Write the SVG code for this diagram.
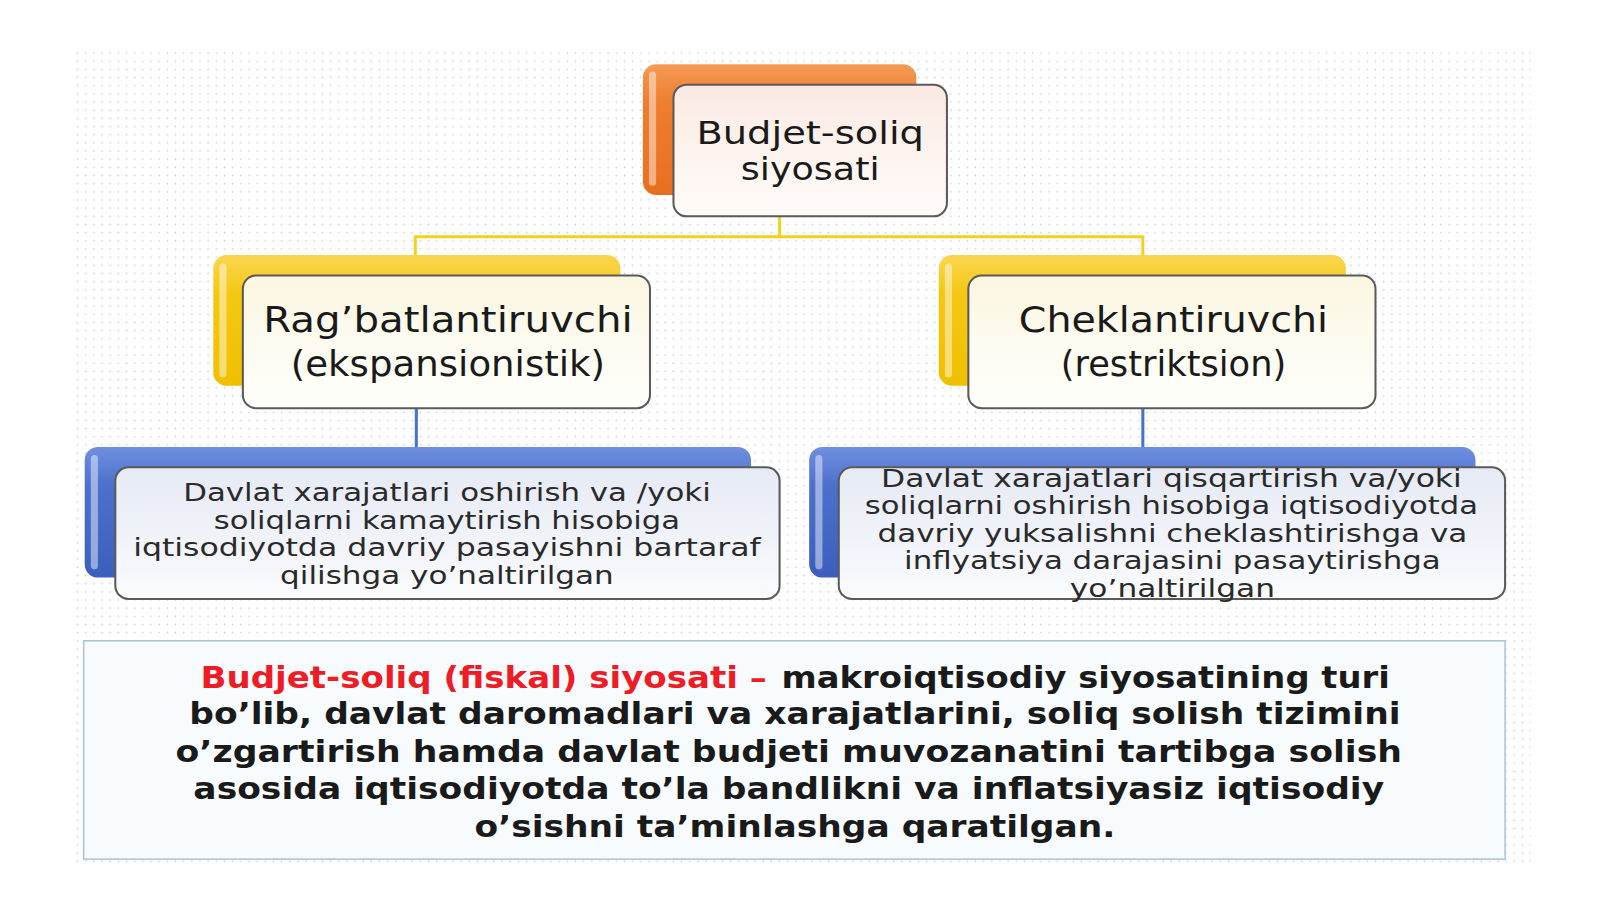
<svg xmlns="http://www.w3.org/2000/svg" width="1600" height="899" viewBox="0 0 1600 899">
<defs>
<pattern id="dots" x="0" y="0" width="8" height="8" patternUnits="userSpaceOnUse">
<circle cx="4" cy="4" r="0.9" fill="#c9d2de"/>
</pattern>
<linearGradient id="gOr" x1="0" y1="0" x2="0" y2="1">
<stop offset="0" stop-color="#f59a55"/><stop offset="0.3" stop-color="#ee7d2e"/><stop offset="1" stop-color="#e8701f"/>
</linearGradient>
<linearGradient id="gYe" x1="0" y1="0" x2="0" y2="1">
<stop offset="0" stop-color="#f9d650"/><stop offset="0.3" stop-color="#f5c712"/><stop offset="1" stop-color="#f0bf00"/>
</linearGradient>
<linearGradient id="gBl" x1="0" y1="0" x2="0" y2="1">
<stop offset="0" stop-color="#6f8fe0"/><stop offset="0.3" stop-color="#4c70cc"/><stop offset="1" stop-color="#3c5fbd"/>
</linearGradient>
<linearGradient id="fOr" x1="0" y1="0" x2="0" y2="1">
<stop offset="0" stop-color="#fbe9e2"/><stop offset="0.5" stop-color="#fdf3ee"/><stop offset="1" stop-color="#fefbf9"/>
</linearGradient>
<linearGradient id="fYe" x1="0" y1="0" x2="0" y2="1">
<stop offset="0" stop-color="#fbf6e0"/><stop offset="0.5" stop-color="#fdfbf0"/><stop offset="1" stop-color="#fefefa"/>
</linearGradient>
<linearGradient id="fBl" x1="0" y1="0" x2="0" y2="1">
<stop offset="0" stop-color="#e6eaf4"/><stop offset="0.5" stop-color="#f0f2f9"/><stop offset="1" stop-color="#fafbfd"/>
</linearGradient>
</defs>
<style>
.front{stroke:#5a5a5a;stroke-width:2}
.hl{fill:#ffffff;opacity:0.45}
.t{font-family:"DejaVu Sans","Liberation Sans",sans-serif;fill:#1a1a1a;text-anchor:middle}
.big{font-size:34px}
.top{font-size:31px}
.sm{font-size:23.5px;fill:#2a2a2a}
.bd{font-size:30px;font-weight:bold}
.red{fill:#ee1c25}
.con{fill:none;stroke-width:3}
</style>
<rect width="1600" height="899" fill="#ffffff"/>
<g transform="scale(1.0204)">
<rect x="70" y="50" width="1430" height="798" fill="url(#dots)"/>

<g id="connectors">
<path class="con" stroke="#f2d21e" d="M764 212 V232 M406 232 H1121 M407 231 V252 M1120 231 V252"/>
<path class="con" stroke="#4a72c8" d="M408 400 V440 M1120 400 V440"/>
</g>

<g id="top">
<rect x="630" y="63" width="268" height="128" rx="13" fill="url(#gOr)"/>
<rect x="636" y="70" width="7" height="112" rx="3.5" class="hl"/>
<rect x="660" y="83" width="268" height="129" rx="13" fill="url(#fOr)" class="front"/>
<text class="t top" x="794" y="141" textLength="223" lengthAdjust="spacingAndGlyphs">Budjet-soliq</text>
<text class="t top" x="794" y="176" textLength="136" lengthAdjust="spacingAndGlyphs">siyosati</text>
</g>

<g id="left-mid">
<rect x="209" y="250" width="399" height="128" rx="13" fill="url(#gYe)"/>
<rect x="215" y="258" width="7" height="112" rx="3.5" class="hl"/>
<rect x="238" y="270" width="399" height="130" rx="13" fill="url(#fYe)" class="front"/>
<text class="t big" x="439" y="325" textLength="362" lengthAdjust="spacingAndGlyphs">Rag’batlantiruvchi</text>
<text class="t big" x="439" y="368" textLength="308" lengthAdjust="spacingAndGlyphs">(ekspansionistik)</text>
</g>

<g id="right-mid">
<rect x="920" y="250" width="399" height="128" rx="13" fill="url(#gYe)"/>
<rect x="926" y="258" width="7" height="112" rx="3.5" class="hl"/>
<rect x="949" y="270" width="399" height="130" rx="13" fill="url(#fYe)" class="front"/>
<text class="t big" x="1150" y="325" textLength="303" lengthAdjust="spacingAndGlyphs">Cheklantiruvchi</text>
<text class="t big" x="1150" y="368" textLength="221" lengthAdjust="spacingAndGlyphs">(restriktsion)</text>
</g>

<g id="left-bottom">
<rect x="83" y="438" width="653" height="128" rx="13" fill="url(#gBl)"/>
<rect x="89" y="446" width="7" height="112" rx="3.5" class="hl"/>
<rect x="113" y="458" width="651" height="129" rx="13" fill="url(#fBl)" class="front"/>
<text class="t sm" x="438" y="491" textLength="517" lengthAdjust="spacingAndGlyphs">Davlat xarajatlari oshirish va /yoki</text>
<text class="t sm" x="438" y="518" textLength="457" lengthAdjust="spacingAndGlyphs">soliqlarni kamaytirish hisobiga</text>
<text class="t sm" x="438" y="545" textLength="615" lengthAdjust="spacingAndGlyphs">iqtisodiyotda davriy pasayishni bartaraf</text>
<text class="t sm" x="438" y="572" textLength="327" lengthAdjust="spacingAndGlyphs">qilishga yo’naltirilgan</text>
</g>

<g id="right-bottom">
<rect x="793" y="438" width="653" height="128" rx="13" fill="url(#gBl)"/>
<rect x="799" y="446" width="7" height="112" rx="3.5" class="hl"/>
<rect x="822" y="458" width="653" height="129" rx="13" fill="url(#fBl)" class="front"/>
<text class="t sm" x="1148" y="477" textLength="569" lengthAdjust="spacingAndGlyphs">Davlat  xarajatlari qisqartirish va/yoki</text>
<text class="t sm" x="1148" y="504" textLength="601" lengthAdjust="spacingAndGlyphs">soliqlarni oshirish hisobiga iqtisodiyotda</text>
<text class="t sm" x="1149" y="531" textLength="578" lengthAdjust="spacingAndGlyphs">davriy yuksalishni  cheklashtirishga va</text>
<text class="t sm" x="1149" y="558" textLength="526" lengthAdjust="spacingAndGlyphs">inflyatsiya darajasini pasaytirishga</text>
<text class="t sm" x="1149" y="585" textLength="201" lengthAdjust="spacingAndGlyphs">yo’naltirilgan</text>
</g>

<g id="definition">
<rect x="82" y="628" width="1393" height="214" fill="#f8fbfd" stroke="#a9c3da" stroke-width="1.5"/>
<text class="t bd" x="474" y="674" textLength="555" lengthAdjust="spacingAndGlyphs"><tspan class="red">Budjet-soliq (fiskal) siyosati –</tspan></text>
<text class="t bd" x="1064" y="674" textLength="596" lengthAdjust="spacingAndGlyphs">makroiqtisodiy siyosatining turi</text>
<text class="t bd" x="779" y="710" textLength="1187" lengthAdjust="spacingAndGlyphs">bo’lib, davlat daromadlari va xarajatlarini, soliq solish tizimini</text>
<text class="t bd" x="773" y="747" textLength="1202" lengthAdjust="spacingAndGlyphs">o’zgartirish hamda davlat budjeti muvozanatini tartibga solish</text>
<text class="t bd" x="773" y="783" textLength="1167" lengthAdjust="spacingAndGlyphs">asosida iqtisodiyotda to’la bandlikni va inflatsiyasiz iqtisodiy</text>
<text class="t bd" x="779" y="820" textLength="628" lengthAdjust="spacingAndGlyphs">o’sishni ta’minlashga qaratilgan.</text>
</g>
</g>
</svg>
